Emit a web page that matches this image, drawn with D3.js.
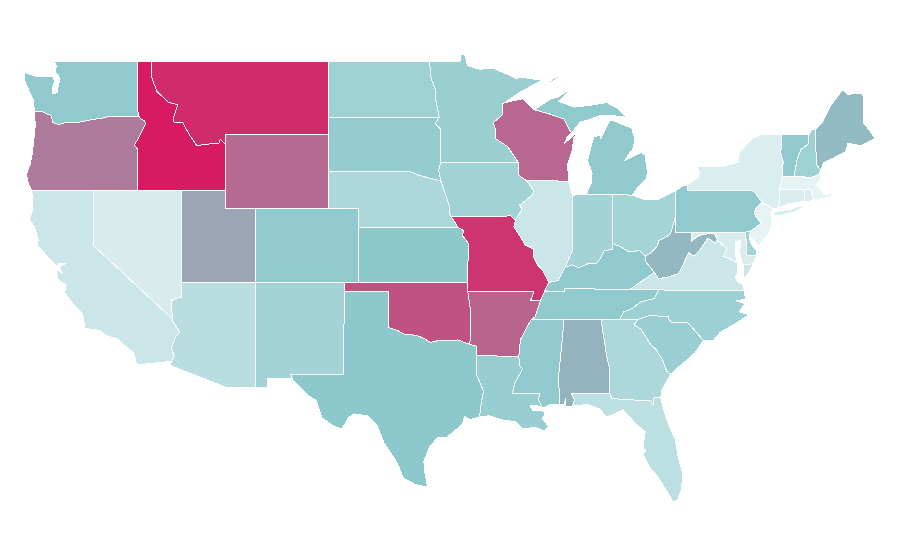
<!DOCTYPE html>
<html lang="en">
<head>
    <meta charset="utf-8">
    <title>US states choropleth</title>
    <script src="https://cdn.jsdelivr.net/npm/d3@7"></script>
    <style>
        html, body { margin: 0; background: #fff; }
        svg { display: block; }
        path.state { stroke: #fff; stroke-width: 1; stroke-linejoin: round; shape-rendering: crispEdges; }
    </style>
</head>
<body>
    <svg id="chart" width="900" height="560"></svg>
    <script>
        // state outlines, [lon, lat], one list per ring
        const WA = [[[-122.76,49],[-117.04,49],[-117.04,46.42],[-116.92,46],[-118.98,46],[-119.2,45.93],[-119.9,45.85],[-120.6,45.74],[-121.2,45.65],[-121.9,45.68],[-122.3,45.55],[-122.75,45.65],[-122.8,45.85],[-122.9,46.05],[-123.2,46.15],[-123.5,46.27],[-124,46.27],[-124.05,46.65],[-124.1,46.95],[-124.35,47.35],[-124.65,47.9],[-124.7,48.38],[-123.9,48.17],[-123.2,48.15],[-122.75,48.15],[-122.65,47.9],[-122.8,47.5],[-122.75,47.2],[-122.45,47.3],[-122.4,47.6],[-122.3,47.95],[-122.35,48.2],[-122.6,48.4],[-122.5,48.75]]];
        const OR = [[[-124,46.27],[-123.5,46.27],[-123.2,46.15],[-122.9,46.05],[-122.8,45.85],[-122.75,45.65],[-122.3,45.55],[-121.9,45.68],[-121.2,45.65],[-120.6,45.74],[-119.9,45.85],[-119.2,45.93],[-118.98,46],[-116.92,46],[-116.78,45.85],[-116.54,45.75],[-116.46,45.6],[-116.68,45.24],[-116.85,45],[-117,44.75],[-117.22,44.45],[-117.03,44.23],[-117.03,42],[-124.2,42],[-124.4,42.3],[-124.55,42.85],[-124.3,43.4],[-124.15,44],[-124.05,44.7],[-123.95,45.5]]];
        const CA = [[[-124.2,42],[-120,42],[-120,39],[-114.63,35],[-114.57,34.8],[-114.14,34.3],[-114.43,34.08],[-114.72,33.4],[-114.52,33.03],[-114.72,32.72],[-117.05,32.53],[-117.3,33.2],[-118.05,33.7],[-118.4,33.95],[-118.9,34.05],[-119.2,34.15],[-119.55,34.4],[-120.6,34.5],[-120.65,34.95],[-120.8,35.35],[-121.4,35.85],[-121.95,36.45],[-121.85,36.85],[-122.4,37.15],[-122.5,37.5],[-122.4,37.65],[-122.1,37.5],[-122.3,37.85],[-121.8,38.05],[-122.35,38.05],[-122.45,37.85],[-123,38.3],[-123.8,39],[-123.75,39.3],[-124,40],[-124.35,40.4],[-124.15,40.85],[-124.1,41.5]]];
        const NV = [[[-120,42],[-114.04,42],[-114.05,37],[-114.04,36.2],[-114.37,36.14],[-114.74,36.01],[-114.7,35.6],[-114.63,35],[-120,39]]];
        const ID = [[[-117.04,49],[-116.05,49],[-116.05,48.1],[-115.7,47.35],[-114.95,46.78],[-114.3,46.62],[-114.55,46],[-114.6,45.7],[-113.95,45.65],[-113.5,45],[-113,44.42],[-112.2,44.5],[-111.5,44.55],[-111.4,44.75],[-111.05,44.47],[-111.05,42],[-117.03,42],[-117.03,44.23],[-117.22,44.45],[-117,44.75],[-116.85,45],[-116.68,45.24],[-116.46,45.6],[-116.54,45.75],[-116.78,45.85],[-116.92,46],[-117.04,46.42]]];
        const MT = [[[-116.05,49],[-104.05,49],[-104.05,45],[-111.05,45],[-111.05,44.47],[-111.4,44.75],[-111.5,44.55],[-112.2,44.5],[-113,44.42],[-113.5,45],[-113.95,45.65],[-114.6,45.7],[-114.55,46],[-114.3,46.62],[-114.95,46.78],[-115.7,47.35],[-116.05,48.1]]];
        const WY = [[[-111.05,45],[-104.05,45],[-104.05,41],[-111.05,41]]];
        const UT = [[[-114.04,42],[-111.05,42],[-111.05,41],[-109.05,41],[-109.05,37],[-114.05,37]]];
        const CO = [[[-109.05,41],[-102.05,41],[-102.05,37],[-109.05,37]]];
        const AZ = [[[-114.05,37],[-109.05,37],[-109.05,31.33],[-111.07,31.33],[-114.81,32.5],[-114.72,32.72],[-114.52,33.03],[-114.72,33.4],[-114.43,34.08],[-114.14,34.3],[-114.57,34.8],[-114.63,35],[-114.7,35.6],[-114.74,36.01],[-114.37,36.14],[-114.04,36.2]]];
        const NM = [[[-109.05,37],[-103,37],[-103,36.5],[-103.04,32],[-106.62,32],[-106.53,31.78],[-108.2,31.78],[-108.2,31.33],[-109.05,31.33]]];
        const ND = [[[-104.05,49],[-97.23,49],[-97.1,48],[-96.85,47.55],[-96.8,46.9],[-96.56,45.94],[-104.05,45.94]]];
        const SD = [[[-104.05,45.94],[-96.56,45.94],[-96.85,45.6],[-96.45,45.3],[-96.45,43.5],[-96.6,43.1],[-96.45,42.49],[-97.9,42.8],[-98.5,43],[-104.05,43]]];
        const NE = [[[-104.05,43],[-98.5,43],[-97.9,42.8],[-96.45,42.49],[-96.1,41.7],[-95.9,41.2],[-95.85,40.7],[-95.3,40],[-102.05,40],[-102.05,41],[-104.05,41]]];
        const KS = [[[-102.05,40],[-95.3,40],[-94.9,39.8],[-95,39.55],[-94.6,39.13],[-94.62,37],[-102.05,37]]];
        const OK = [[[-103,37],[-94.62,37],[-94.62,36.5],[-94.43,35.4],[-94.48,33.64],[-95.3,33.88],[-96,33.85],[-96.6,33.85],[-97.15,33.75],[-97.65,33.98],[-98.1,34.13],[-98.95,34.2],[-99.4,34.4],[-100,34.56],[-100,36.5],[-103,36.5]]];
        const TX = [[[-106.62,32],[-103.04,32],[-103,36.5],[-100,36.5],[-100,34.56],[-99.4,34.4],[-98.95,34.2],[-98.1,34.13],[-97.65,33.98],[-97.15,33.75],[-96.6,33.85],[-96,33.85],[-95.3,33.88],[-94.48,33.64],[-94.04,33.55],[-94.04,33.02],[-94.04,32],[-93.82,31.6],[-93.55,31.1],[-93.7,30.5],[-93.75,30.2],[-93.84,29.7],[-94.5,29.55],[-94.85,29.75],[-95,29.3],[-96.05,28.6],[-96.65,28.6],[-97.2,28.1],[-97.6,27.3],[-97.55,26.8],[-97.35,25.9],[-98.2,26.05],[-99,26.4],[-99.4,27.2],[-100.3,28.3],[-100.8,29.3],[-101.4,29.77],[-102.3,29.87],[-102.7,29.7],[-103.15,29.05],[-103.7,29.2],[-104.5,29.65],[-104.9,30.6],[-105.4,30.85],[-106.2,31.46],[-106.53,31.78]]];
        const MN = [[[-97.23,49],[-95.15,49],[-95.15,49.38],[-94.8,49.3],[-94.65,48.75],[-93.8,48.55],[-92.95,48.62],[-92,48.3],[-91.4,48.07],[-90.75,48.1],[-90,48],[-89.5,48],[-90.3,47.65],[-91.2,47.25],[-92.1,46.75],[-92.29,46.66],[-92.29,46.07],[-92.9,45.65],[-92.75,45.3],[-92.75,44.8],[-91.9,44.35],[-91.2,43.5],[-96.45,43.5],[-96.45,45.3],[-96.85,45.6],[-96.56,45.94],[-96.8,46.9],[-96.85,47.55],[-97.1,48]]];
        const IA = [[[-96.45,43.5],[-91.2,43.5],[-91.15,42.8],[-90.64,42.51],[-90.15,41.95],[-90.3,41.7],[-91.1,41.2],[-90.95,40.95],[-91.4,40.38],[-91.7,40.6],[-95.77,40.58],[-95.85,40.7],[-95.9,41.2],[-96.1,41.7],[-96.45,42.49],[-96.6,43.1]]];
        const MO = [[[-95.77,40.58],[-91.7,40.6],[-91.4,40.38],[-91.5,40],[-91,39.4],[-90.7,39],[-90.2,38.8],[-90.2,38.4],[-89.9,37.95],[-89.5,37.6],[-89.15,37],[-89.42,36.5],[-89.7,36],[-90.37,36],[-90.15,36.5],[-94.62,36.5],[-94.62,37],[-94.6,39.13],[-95,39.55],[-94.9,39.8],[-95.3,40],[-95.85,40.7]]];
        const AR = [[[-94.62,36.5],[-90.15,36.5],[-90.37,36],[-89.7,36],[-90.07,35.13],[-90.3,35],[-90.6,34.6],[-91.05,33.9],[-91.17,33],[-94.04,33.02],[-94.04,33.55],[-94.48,33.64],[-94.43,35.4]]];
        const LA = [[[-94.04,33.02],[-91.17,33],[-91.1,32.5],[-90.9,32.3],[-91.4,31.6],[-91.6,31],[-89.73,31],[-89.85,30.65],[-89.55,30.2],[-90,30.35],[-90.4,30.3],[-90.2,30.05],[-89.7,30.05],[-89.4,30],[-89.4,29.8],[-89.6,29.65],[-89.15,29.2],[-89.4,28.95],[-90.1,29.15],[-90.9,29.05],[-91.4,29.45],[-91.85,29.5],[-92.3,29.55],[-93.2,29.77],[-93.84,29.7],[-93.75,30.2],[-93.7,30.5],[-93.55,31.1],[-93.82,31.6],[-94.04,32]]];
        const WI = [[[-92.1,46.75],[-91.2,46.9],[-90.85,46.95],[-90.1,46.35],[-89.1,46.13],[-88.1,45.85],[-87.75,45.3],[-87.6,45.1],[-87.9,44.85],[-88.05,44.55],[-87.4,45],[-87.1,45.2],[-87.45,44.85],[-87.53,44.2],[-87.85,43.4],[-87.8,42.49],[-90.64,42.51],[-91.15,42.8],[-91.2,43.5],[-91.9,44.35],[-92.75,44.8],[-92.75,45.3],[-92.9,45.65],[-92.29,46.07],[-92.29,46.66]]];
        const IL = [[[-90.64,42.51],[-87.8,42.49],[-87.53,41.72],[-87.53,39.35],[-87.53,38.7],[-88.05,37.8],[-88.5,37.1],[-89.15,37],[-89.5,37.6],[-89.9,37.95],[-90.2,38.4],[-90.2,38.8],[-90.7,39],[-91,39.4],[-91.5,40],[-91.4,40.38],[-90.95,40.95],[-91.1,41.2],[-90.3,41.7],[-90.15,41.95]]];
        const MI = [[[-86.6,41.76],[-84.8,41.76],[-83.45,41.73],[-83.15,42.1],[-82.5,42.6],[-82.45,43],[-82.6,43.9],[-82.9,44.05],[-84,43.6],[-83.4,44.3],[-83.3,44.75],[-83.5,45.35],[-84.7,45.75],[-85,45.8],[-85.45,45.05],[-85.6,44.8],[-85.6,45],[-86.05,44.9],[-86.15,44.7],[-86.5,43.6],[-86.2,42.9],[-86.25,42.4]],
                    [[-90.1,46.35],[-89,46.95],[-88.5,47.05],[-87.8,47.4],[-87.85,47.3],[-88.45,46.8],[-87.4,46.5],[-86.3,46.6],[-85.2,46.75],[-84.5,46.45],[-84.2,46.2],[-83.9,45.95],[-84.9,46.05],[-85.6,46.05],[-86.5,45.8],[-87,45.7],[-87.6,45.1],[-87.75,45.3],[-88.1,45.85],[-89.1,46.13]],
                    [[-89.2,47.85],[-88.5,48.18],[-88.45,48.1],[-89.1,47.8]]];
        const IN = [[[-87.53,41.72],[-87.2,41.75],[-86.6,41.76],[-84.8,41.76],[-84.8,39.1],[-84.8,38.8],[-85.4,38.7],[-85.65,38.3],[-85.9,38],[-86.5,38],[-87.1,37.8],[-87.6,37.95],[-88.05,37.8],[-87.53,38.7],[-87.53,39.35]]];
        const OH = [[[-84.8,41.76],[-83.45,41.73],[-82.7,41.5],[-81.7,41.5],[-80.52,41.98],[-80.52,40.64],[-80.85,39.7],[-81,39.55],[-81.7,39.25],[-81.75,39],[-82.2,38.6],[-82.6,38.42],[-83,38.73],[-83.7,38.65],[-84.3,38.95],[-84.8,39.1]]];
        const KY = [[[-89.42,36.5],[-89.15,37],[-88.5,37.1],[-88.05,37.8],[-87.6,37.95],[-87.1,37.8],[-86.5,38],[-85.9,38],[-85.65,38.3],[-85.4,38.7],[-84.8,38.8],[-84.8,39.1],[-84.3,38.95],[-83.7,38.65],[-83,38.73],[-82.6,38.42],[-82.6,38.15],[-81.97,37.54],[-83.68,36.6],[-88.07,36.68],[-88.07,36.5]]];
        const TN = [[[-89.7,36],[-89.42,36.5],[-88.07,36.5],[-88.07,36.68],[-83.68,36.6],[-81.68,36.59],[-82,36.13],[-82.4,36.05],[-82.9,35.95],[-83.5,35.57],[-84.05,35.4],[-84.32,35],[-85.6,35],[-88.2,35],[-90.3,35],[-90.07,35.13]]];
        const MS = [[[-90.3,35],[-88.2,35],[-88.1,34.9],[-88.47,31.9],[-88.4,30.4],[-89,30.38],[-89.55,30.2],[-89.85,30.65],[-89.73,31],[-91.6,31],[-91.4,31.6],[-90.9,32.3],[-91.1,32.5],[-91.17,33],[-91.05,33.9],[-90.6,34.6]]];
        const AL = [[[-88.2,35],[-85.6,35],[-85.18,32.87],[-85,32.3],[-85.05,31.55],[-85,31],[-87.6,31],[-87.4,30.65],[-87.52,30.3],[-88,30.25],[-88,30.7],[-88.1,30.35],[-88.4,30.4],[-88.47,31.9],[-88.1,34.9]]];
        const GA = [[[-85.6,35],[-83.1,35],[-83.35,34.7],[-82.9,34.48],[-82.2,33.6],[-81.9,33.4],[-81.45,32.85],[-81.15,32.2],[-80.87,32.03],[-81.45,31.2],[-81.55,30.75],[-82,30.75],[-82.05,30.36],[-82.2,30.57],[-84.86,30.7],[-85,31],[-85.05,31.55],[-85,32.3],[-85.18,32.87]]];
        const FL = [[[-87.6,31],[-85,31],[-84.86,30.7],[-82.2,30.57],[-82.05,30.36],[-82,30.75],[-81.55,30.75],[-81.3,29.95],[-80.9,29.1],[-80.55,28.45],[-80.35,27.5],[-80.05,26.65],[-80.13,25.8],[-80.4,25.2],[-80.7,25.1],[-81.1,25.65],[-81.9,26.65],[-82.25,26.9],[-82.75,27.7],[-82.55,27.9],[-82.75,28],[-82.6,28.9],[-83.2,29.3],[-84.1,30.1],[-84.6,29.9],[-85.2,29.7],[-85.7,30.15],[-86.5,30.38],[-87.52,30.3],[-87.4,30.65]]];
        const SC = [[[-83.1,35],[-82.3,35.2],[-81.05,35.15],[-81.05,35.05],[-80.8,34.82],[-79.67,34.8],[-78.65,33.85],[-79.2,33.2],[-79.9,32.7],[-80.5,32.3],[-80.87,32.03],[-81.15,32.2],[-81.45,32.85],[-81.9,33.4],[-82.2,33.6],[-82.9,34.48],[-83.35,34.7]]];
        const NC = [[[-84.32,35],[-84.05,35.4],[-83.5,35.57],[-82.9,35.95],[-82.4,36.05],[-82,36.13],[-81.68,36.59],[-75.87,36.55],[-75.8,36.1],[-76.4,36],[-75.85,35.85],[-76.2,35.4],[-75.55,35.25],[-76.5,34.75],[-77.5,34.3],[-77.95,33.87],[-78.65,33.85],[-79.67,34.8],[-80.8,34.82],[-81.05,35.05],[-81.05,35.15],[-82.3,35.2],[-83.1,35]]];
        const VA = [[[-83.68,36.6],[-81.97,37.54],[-81.68,37.2],[-81,37.3],[-80.3,37.5],[-79.65,38.6],[-79.3,38.42],[-78.87,38.77],[-78.35,39.4],[-77.83,39.13],[-77.72,39.32],[-77.05,38.8],[-77.3,38.4],[-76.9,38.3],[-76.35,38.05],[-76.3,37.6],[-76.5,37.25],[-76.3,37],[-75.97,36.9],[-75.87,36.55],[-81.68,36.59]],
                    [[-75.65,37.95],[-75.25,38.03],[-75.6,37.5],[-75.95,37.15],[-75.95,37.95]]];
        const WV = [[[-82.6,38.42],[-82.2,38.6],[-81.75,39],[-81.7,39.25],[-81,39.55],[-80.85,39.7],[-80.52,40.64],[-80.52,39.72],[-79.48,39.72],[-79.48,39.2],[-79.1,39.47],[-78.75,39.6],[-78.4,39.62],[-78.2,39.68],[-77.85,39.6],[-77.72,39.32],[-77.83,39.13],[-78.35,39.4],[-78.87,38.77],[-79.3,38.42],[-79.65,38.6],[-80.3,37.5],[-81,37.3],[-81.68,37.2],[-81.97,37.54],[-82.6,38.15]]];
        const MD = [[[-79.48,39.72],[-75.79,39.72],[-75.7,38.46],[-75.05,38.45],[-75.25,38.03],[-75.65,37.95],[-75.95,37.95],[-76.15,38.4],[-76.2,38.7],[-76.1,39.3],[-76.5,39.2],[-76.5,38.6],[-76.35,38.05],[-76.9,38.3],[-77.3,38.4],[-77.05,38.8],[-77.72,39.32],[-77.85,39.6],[-78.2,39.68],[-78.4,39.62],[-78.75,39.6],[-79.1,39.47],[-79.48,39.2]]];
        const DE = [[[-75.79,39.72],[-75.4,39.8],[-75.55,39.5],[-75.4,39.05],[-75.08,38.78],[-75.05,38.45],[-75.7,38.46]]];
        const PA = [[[-80.52,41.98],[-80,42.25],[-79.76,42.27],[-79.76,42],[-75.35,42],[-75.05,41.75],[-74.7,41.36],[-75.1,41],[-75.2,40.7],[-74.75,40.2],[-75.4,39.8],[-75.79,39.72],[-80.52,39.72]]];
        const NJ = [[[-74.7,41.36],[-73.93,41],[-74.1,40.65],[-74,40.45],[-74.1,39.75],[-74.9,38.95],[-75.2,39.25],[-75.55,39.5],[-75.4,39.8],[-74.75,40.2],[-75.2,40.7],[-75.1,41]]];
        const NY = [[[-79.76,42.27],[-79,42.7],[-78.9,42.9],[-79.05,43.27],[-77.5,43.27],[-76.3,43.5],[-76.2,44.05],[-75.3,44.85],[-74.7,45],[-73.35,45],[-73.4,44],[-73.25,43.55],[-73.27,42.75],[-73.5,42.05],[-73.5,41.3],[-73.65,41],[-73.93,41],[-74.7,41.36],[-75.05,41.75],[-75.35,42],[-79.76,42]],
                    [[-74,40.6],[-73.75,40.85],[-72.6,40.98],[-72.25,41.15],[-71.87,41.07],[-72.5,40.8],[-73.5,40.6]]];
        const CT = [[[-73.5,42.05],[-71.8,42.02],[-71.8,41.4],[-72.9,41.25],[-73.65,41],[-73.5,41.3]]];
        const RI = [[[-71.8,42.02],[-71.38,42.02],[-71.2,41.5],[-71.5,41.37],[-71.8,41.4]]];
        const MA = [[[-73.27,42.75],[-72.46,42.73],[-71.3,42.7],[-70.8,42.87],[-70.6,42.65],[-71,42.3],[-70.6,41.95],[-70.5,41.78],[-70,41.8],[-70.05,42.05],[-69.95,41.67],[-70.65,41.53],[-71.2,41.5],[-71.38,42.02],[-71.8,42.02],[-73.5,42.05]]];
        const VT = [[[-73.35,45],[-71.5,45],[-71.55,44.5],[-72.05,44.2],[-72.3,43.65],[-72.45,43],[-72.46,42.73],[-73.27,42.75],[-73.25,43.55],[-73.4,44]]];
        const NH = [[[-71.5,45],[-71.3,45.3],[-71.08,45.3],[-70.98,43.4],[-70.7,43.08],[-70.8,42.87],[-71.3,42.7],[-72.46,42.73],[-72.45,43],[-72.3,43.65],[-72.05,44.2],[-71.55,44.5]]];
        const ME = [[[-71.08,45.3],[-70.6,45.65],[-70.25,46.2],[-70,46.6],[-69.2,47.45],[-68.9,47.2],[-67.9,47.25],[-67.8,47.07],[-67.8,45.65],[-67.45,45.3],[-67,44.8],[-68,44.4],[-68.85,44.55],[-69,44.1],[-69.8,43.75],[-70.5,43.5],[-70.7,43.08],[-70.98,43.4]]];

        const stateNames = ["WA","OR","CA","NV","ID","MT","WY","UT","CO","AZ","NM","ND","SD","NE","KS","OK","TX","MN","IA","MO","AR","LA","WI","IL","MI","IN","OH","KY","TN","MS","AL","GA","FL","SC","NC","VA","WV","MD","DE","PA","NJ","NY","CT","RI","MA","VT","NH","ME"];
        const stateShapes = [WA,OR,CA,NV,ID,MT,WY,UT,CO,AZ,NM,ND,SD,NE,KS,OK,TX,MN,IA,MO,AR,LA,WI,IL,MI,IN,OH,KY,TN,MS,AL,GA,FL,SC,NC,VA,WV,MD,DE,PA,NJ,NY,CT,RI,MA,VT,NH,ME];
        const stateValues = [48,72,22.6,17,100,95,77,60,47.8,30,40,42,46.5,35.6,50,84,50,44,40.8,92.5,79,44.8,78,22.6,47.8,40,39,48,48.3,47.8,56,35.6,29,44.3,42.6,22.6,54.5,17,40,48.3,11,16,16.5,16.5,11,47.8,42,54];

        const x = d3.scaleLinear().domain([-117.03, -66.95]).range([137.3, 876]);
        const y = d3.scaleLinear().domain([49, 25.13]).range([61, 501.4]);
        const color = d3.scaleLinear().domain([0, 50, 100]).range(["#ffffff", "#8cc8cc", "#d81b60"]);

        const ring = d3.line().x(d => x(d[0])).y(d => y(d[1])).curve(d3.curveLinearClosed);

        d3.select("#chart").selectAll("path.state")
            .data(stateNames)
            .enter()
            .append("path")
            .attr("class", "state")
            .attr("d", (d, i) => stateShapes[i].map(ring).join(""))
            .attr("fill", (d, i) => color(stateValues[i]));
    </script>
</body>
</html>
